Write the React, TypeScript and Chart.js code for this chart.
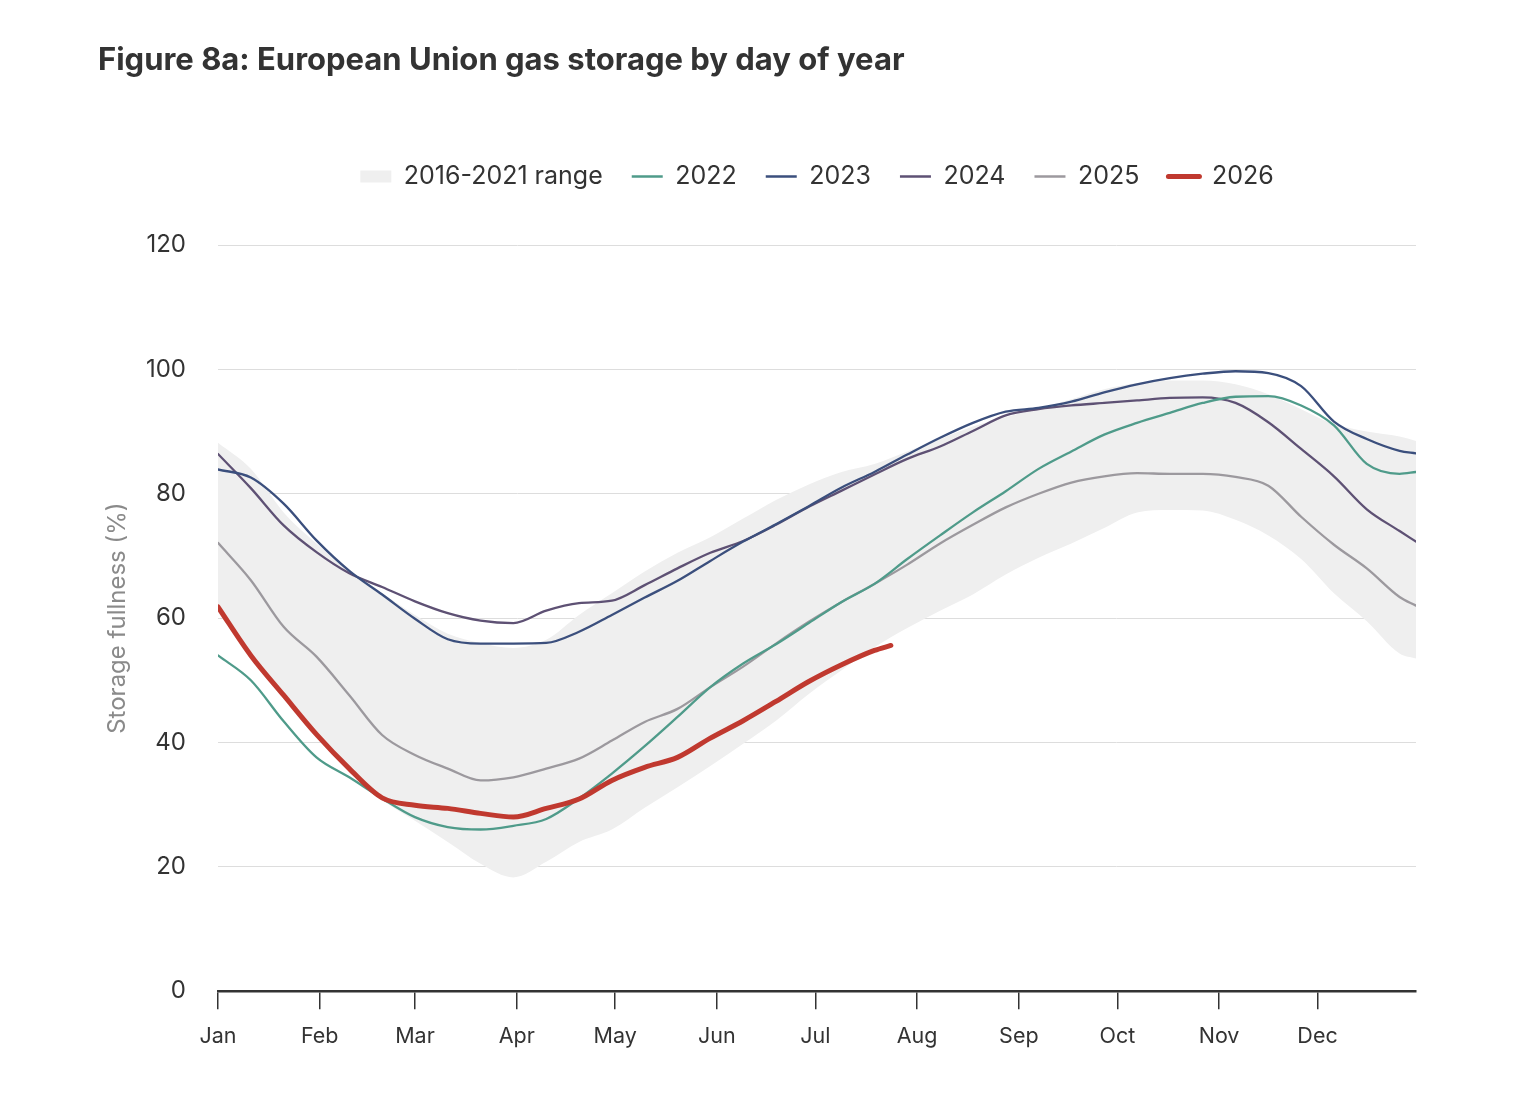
import React, { useEffect, useRef } from 'react';
import { Chart, registerables } from 'chart.js';

Chart.register(...registerables);

const FONT = 'Inter, "Noto Sans", "DejaVu Sans", sans-serif';
const TITLE = 'Figure 8a: European Union gas storage by day of year';
const Y_TITLE = 'Storage fullness (%)';

// Day-of-year sample points (0 = 1 Jan, leap-year calendar)
const DAYS = [0, 10, 20, 30, 40, 50, 60, 70, 80, 90, 100, 110, 120, 130, 140, 150, 160, 170, 180, 190, 200, 210, 220, 230, 240, 250, 260, 270, 280, 290, 300, 310, 320, 330, 340, 350, 360, 365];
const DAYS_2026 = [0, 10, 20, 30, 40, 50, 60, 70, 80, 90, 100, 110, 120, 130, 140, 150, 160, 170, 180, 190, 200, 205];

const MONTH_DAYS = [0, 31, 60, 91, 121, 152, 182, 213, 244, 274, 305, 335];
const MONTH_LABELS = ['Jan', 'Feb', 'Mar', 'Apr', 'May', 'Jun', 'Jul', 'Aug', 'Sep', 'Oct', 'Nov', 'Dec'];
const Y_TICKS = [0, 20, 40, 60, 80, 100, 120];

// 2016-2021 range
const RANGE_HIGH = [88.2, 84, 77, 72, 67.5, 64, 60.5, 57.5, 56, 55.2, 56.5, 60.5, 64, 67.5, 70.5, 73, 76, 79, 81.5, 83.5, 84.8, 86.8, 88.8, 90.8, 92.3, 93.7, 95.2, 96.8, 97.8, 98.2, 98.2, 97.6, 96.0, 93.6, 91.2, 90, 89.2, 88.5];
const RANGE_LOW = [61, 53.5, 47, 40.8, 35.3, 30.8, 27.4, 24, 20.5, 18.3, 20.8, 24, 26, 29.5, 32.8, 36.2, 39.8, 43.5, 47.8, 51.6, 55.3, 58.4, 61.2, 63.8, 67, 69.7, 72, 74.5, 77, 77.4, 77.3, 75.8, 73.3, 69.5, 64, 59.5, 54.3, 53.5];

const S2022 = [54.0, 50.0, 43.4, 37.6, 34.4, 31.0, 28.0, 26.4, 26.0, 26.6, 27.7, 31.0, 35.0, 39.4, 44.1, 48.9, 52.7, 55.8, 59.2, 62.6, 65.5, 69.5, 73.3, 77.0, 80.4, 84.0, 86.8, 89.5, 91.4, 93.0, 94.6, 95.6, 95.7, 94.2, 91.0, 84.8, 83.2, 83.5];
const S2023 = [83.9, 82.6, 78.4, 72.5, 67.6, 63.8, 59.9, 56.6, 55.9, 55.9, 56.0, 57.8, 60.5, 63.3, 66.0, 69.2, 72.3, 75.1, 78.0, 81.0, 83.5, 86.3, 89.0, 91.4, 93.2, 93.8, 94.8, 96.3, 97.6, 98.6, 99.3, 99.7, 99.4, 97.3, 91.6, 88.8, 86.9, 86.5];
const S2024 = [86.4, 80.9, 74.9, 70.6, 67.2, 65.0, 62.7, 60.8, 59.6, 59.2, 61.2, 62.4, 62.8, 65.3, 68.0, 70.5, 72.4, 75.0, 77.9, 80.5, 83.1, 85.6, 87.6, 90.1, 92.6, 93.6, 94.2, 94.6, 95.0, 95.4, 95.5, 94.6, 91.5, 87.2, 82.8, 77.5, 74.0, 72.3];
const S2025 = [72.1, 66.1, 58.6, 53.8, 47.6, 41.2, 38.0, 35.8, 33.9, 34.4, 35.8, 37.4, 40.3, 43.3, 45.4, 48.9, 52.2, 55.9, 59.4, 62.6, 65.5, 68.6, 72.0, 75.0, 77.8, 80.0, 81.8, 82.8, 83.3, 83.2, 83.2, 82.7, 81.3, 76.3, 71.8, 68.0, 63.4, 62.0];
const S2026 = [61.8, 54.0, 47.6, 41.3, 35.8, 31.1, 29.9, 29.4, 28.6, 28.0, 29.4, 30.9, 33.9, 36.0, 37.6, 40.7, 43.5, 46.6, 49.8, 52.5, 54.8, 55.6];

const BAND_COLOR = '#efefef';
const C2022 = '#4f9b8a';
const C2023 = '#3b4f7d';
const C2024 = '#5e5174';
const C2025 = '#9c999e';
const C2026 = '#c0392f';

const legendSpacer = {
  id: 'legendSpacer',
  beforeLayout(chart: any) {
    const lg = chart.legend;
    if (lg && !lg.__patched) {
      const orig = lg.fit.bind(lg);
      lg.fit = function () {
        orig();
        this.height += 46;
      };
      lg.__patched = true;
    }
  },
};

export default function App() {
  const ref = useRef<HTMLCanvasElement>(null);

  useEffect(() => {
    const canvas = ref.current;
    if (!canvas) return;
    const pts = (xs: number[], ys: number[]) => xs.map((x, i) => ({ x, y: ys[i] }));
    const line = (label: string, xs: number[], ys: number[], color: string, width: number, order: number) => ({
      label,
      data: pts(xs, ys),
      borderColor: color,
      backgroundColor: color,
      borderWidth: width,
      pointRadius: 0,
      fill: false,
      cubicInterpolationMode: 'monotone' as const,
      borderCapStyle: 'round' as const,
      borderJoinStyle: 'round' as const,
      order,
    });

    const legendItems = [
      { text: '2016-2021 range', fillStyle: BAND_COLOR, strokeStyle: BAND_COLOR, lineWidth: 0, pointStyle: 'rect', hidden: false, fontColor: '#333' },
      { text: '2022', fillStyle: C2022, strokeStyle: C2022, lineWidth: 2.5, pointStyle: 'line', hidden: false, fontColor: '#333' },
      { text: '2023', fillStyle: C2023, strokeStyle: C2023, lineWidth: 2.5, pointStyle: 'line', hidden: false, fontColor: '#333' },
      { text: '2024', fillStyle: C2024, strokeStyle: C2024, lineWidth: 2.5, pointStyle: 'line', hidden: false, fontColor: '#333' },
      { text: '2025', fillStyle: C2025, strokeStyle: C2025, lineWidth: 2.5, pointStyle: 'line', hidden: false, fontColor: '#333' },
      { text: '2026', fillStyle: C2026, strokeStyle: C2026, lineWidth: 5, lineCap: 'round', pointStyle: 'line', hidden: false, fontColor: '#333' },
    ];

    const chart = new Chart(canvas, {
      type: 'line',
      data: {
        datasets: [
          {
            label: '2016-2021 range (high)',
            data: pts(DAYS, RANGE_HIGH),
            borderColor: 'rgba(0,0,0,0)',
            borderWidth: 0,
            backgroundColor: BAND_COLOR,
            pointRadius: 0,
            fill: '+1',
            cubicInterpolationMode: 'monotone',
            order: 10,
          },
          {
            label: '2016-2021 range (low)',
            data: pts(DAYS, RANGE_LOW),
            borderColor: 'rgba(0,0,0,0)',
            borderWidth: 0,
            backgroundColor: BAND_COLOR,
            pointRadius: 0,
            fill: false,
            cubicInterpolationMode: 'monotone',
            order: 10,
          },
          line('2022', DAYS, S2022, C2022, 2.3, 3),
          line('2023', DAYS, S2023, C2023, 2.3, 2),
          line('2024', DAYS, S2024, C2024, 2.3, 4),
          line('2025', DAYS, S2025, C2025, 2.3, 5),
          line('2026', DAYS_2026, S2026, C2026, 5, 0),
        ] as any,
      },
      options: {
        animation: false,
        responsive: true,
        maintainAspectRatio: false,
        layout: { padding: { left: 90, right: 110, top: 0, bottom: 27 } },
        plugins: {
          title: {
            display: true,
            text: TITLE,
            align: 'start',
            color: '#333',
            font: { family: FONT, size: 31, weight: 'bold' },
            padding: { top: 34, bottom: 55.8 },
          },
          legend: {
            display: true,
            position: 'top',
            fullSize: false,
            align: 'center',
            onClick: () => {},
            labels: {
              usePointStyle: true,
              pointStyleWidth: 31,
              boxHeight: 12,
              padding: 29,
              color: '#333',
              font: { family: FONT, size: 25 },
              generateLabels: () => legendItems as any,
            },
          },
          tooltip: { enabled: false },
        },
        scales: {
          x: {
            type: 'linear',
            min: 0,
            max: 365,
            afterBuildTicks: (s: any) => {
              s.ticks = MONTH_DAYS.map((v) => ({ value: v }));
            },
            ticks: {
              autoSkip: false,
              maxRotation: 0,
              color: '#333',
              padding: 14,
              font: { family: FONT, size: 21.5 },
              callback: (_v: any, i: number) => MONTH_LABELS[i],
            },
            grid: {
              drawOnChartArea: false,
              drawTicks: true,
              tickLength: 18,
              color: '#333',
              lineWidth: 1.5,
            },
            border: { display: true, color: '#333', width: 2.5 },
          },
          y: {
            type: 'linear',
            min: 0,
            max: 120,
            afterBuildTicks: (s: any) => {
              s.ticks = Y_TICKS.map((v) => ({ value: v }));
            },
            afterFit: (s: any) => {
              s.width = 120;
            },
            ticks: {
              color: '#333',
              padding: 32,
              font: { family: FONT, size: 24 },
            },
            grid: {
              drawTicks: false,
              lineWidth: 1,
              color: (c: any) => (c.tick && c.tick.value === 0 ? 'rgba(0,0,0,0)' : '#dddddd'),
            },
            border: { display: false },
            title: {
              display: true,
              text: Y_TITLE,
              color: '#8a8a8a',
              font: { family: FONT, size: 24 },
              padding: { top: 5.6, bottom: 0 },
            },
          },
        },
      },
      plugins: [legendSpacer],
    });

    return () => chart.destroy();
  }, []);

  return (
    <div style={{ width: 1518, height: 1082, position: 'relative' }}>
      <canvas ref={ref} />
    </div>
  );
}
